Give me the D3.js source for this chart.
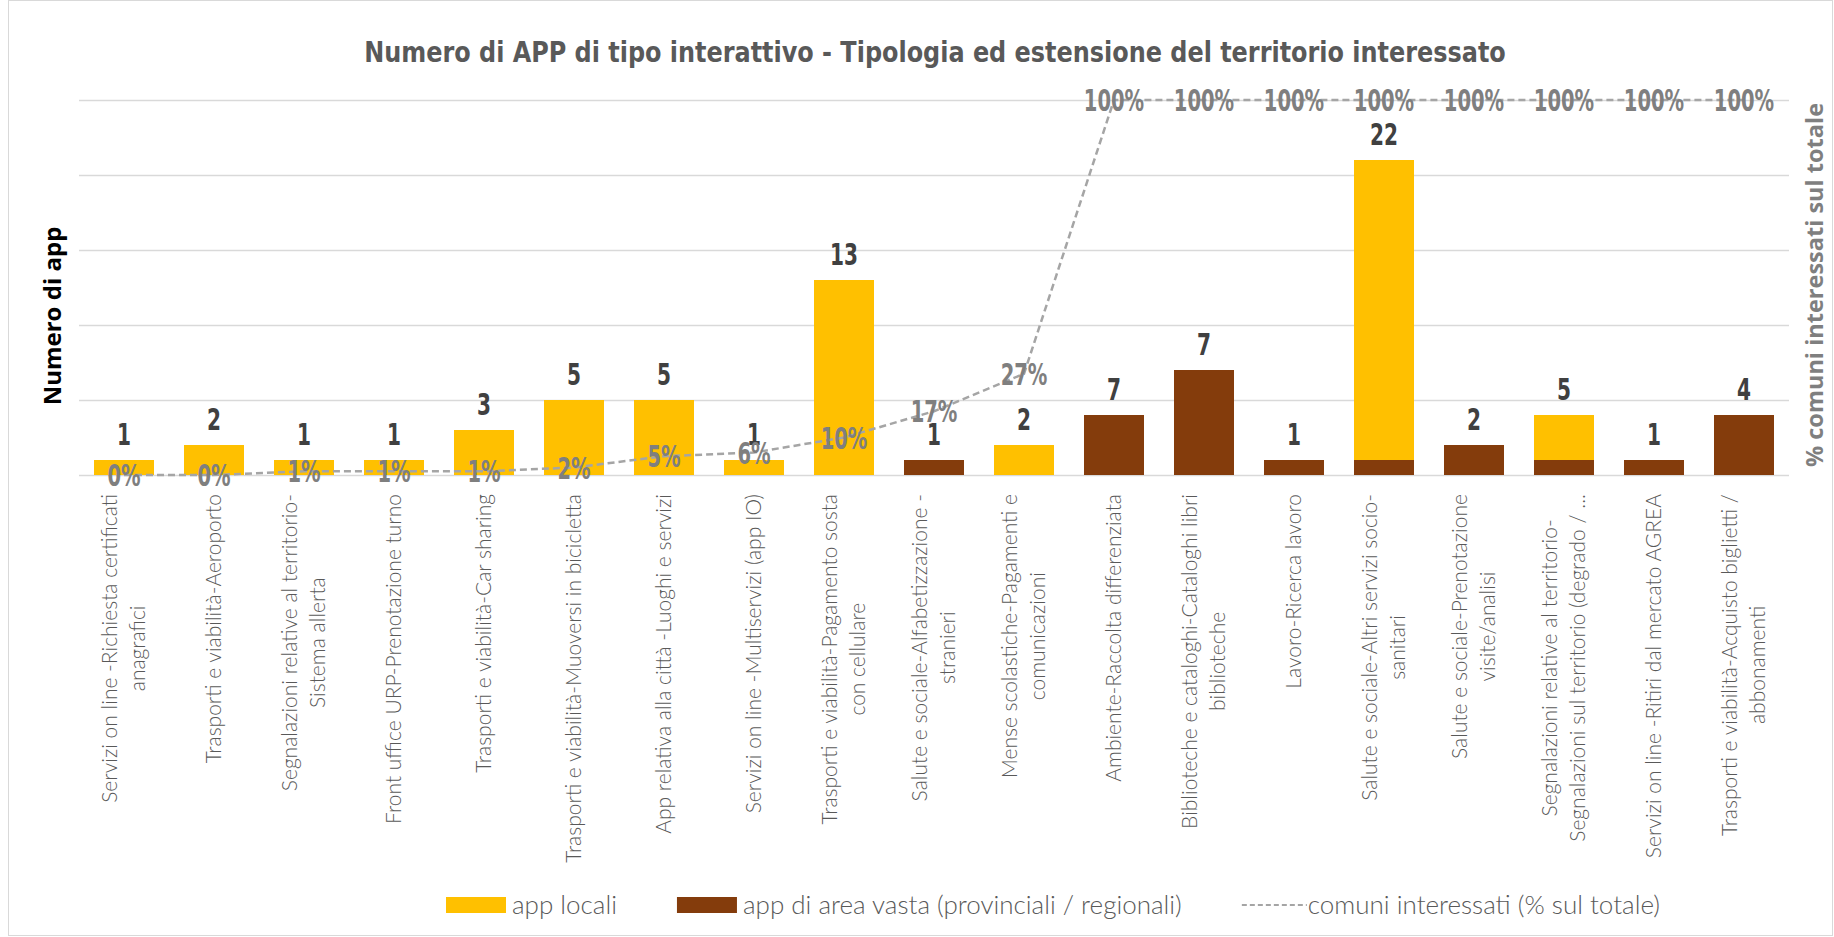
<!DOCTYPE html>
<html>
<head>
<meta charset="utf-8">
<script src="https://cdn.jsdelivr.net/npm/d3@7"></script>
<style>
  body { margin: 0; background: #fff; }
  svg { display: block; }
</style>
</head>
<body>
<div id="chart"></div>
<script>
// categorie (a capo come nell'originale)
const categories = [
  "Servizi on line -Richiesta certificati\nanagrafici",
  "Trasporti e viabilità-Aeroporto",
  "Segnalazioni relative al territorio-\nSistema allerta",
  "Front uffice URP-Prenotazione turno",
  "Trasporti e viabilità-Car sharing",
  "Trasporti e viabilità-Muoversi in bicicletta",
  "App relativa alla città -Luoghi e servizi",
  "Servizi on line -Multiservizi (app IO)",
  "Trasporti e viabilità-Pagamento sosta\ncon cellulare",
  "Salute e sociale-Alfabetizzazione -\nstranieri",
  "Mense scolastiche-Pagamenti e\ncomunicazioni",
  "Ambiente-Raccolta differenziata",
  "Biblioteche e cataloghi-Cataloghi libri\nbiblioteche",
  "Lavoro-Ricerca lavoro",
  "Salute e sociale-Altri servizi socio-\nsanitari",
  "Salute e sociale-Prenotazione\nvisite/analisi",
  "Segnalazioni relative al territorio-\nSegnalazioni sul territorio (degrado / ...",
  "Servizi on line -Ritiri dal mercato AGREA",
  "Trasporti e viabilità-Acquisto biglietti /\nabbonamenti"
];
const appLocali    = [1, 2, 1, 1, 3, 5, 5, 1, 13, 0, 2, 0, 0, 0, 20, 0, 3, 0, 0];
const appAreaVasta = [0, 0, 0, 0, 0, 0, 0, 0, 0, 1, 0, 4, 7, 1, 1, 2, 1, 1, 4];
const totaliLabel  = [1, 2, 1, 1, 3, 5, 5, 1, 13, 1, 2, 7, 7, 1, 22, 2, 5, 1, 4];
const comuniPct    = [0, 0, 1, 1, 1, 2, 5, 6, 10, 17, 27, 100, 100, 100, 100, 100, 100, 100, 100];
const yTicks = [0, 5, 10, 15, 20, 25];

const W = 1834, H = 937;
const margin = {top: 100, right: 45, bottom: 462, left: 79};
const numFont = "'Liberation Sans Narrow', 'DejaVu Sans Condensed', sans-serif";
const thinFont = "Lato, 'Open Sans', sans-serif";

// restringe orizzontalmente un testo (font condensato tipo DIN)
function squeeze(sel, f) {
    sel.each(function () {
        const w = this.getComputedTextLength();
        d3.select(this).attr("textLength", w * f).attr("lengthAdjust", "spacingAndGlyphs");
    });
}

const svg = d3.select("#chart").append("svg")
    .attr("width", W)
    .attr("height", H);

// bordo area grafico
svg.append("rect")
    .attr("x", 8.5).attr("y", 0.5)
    .attr("width", W - 10).attr("height", H - 2)
    .attr("fill", "none")
    .attr("stroke", "#d9d9d9");

const x = d3.scaleBand()
    .domain(d3.range(categories.length))
    .range([margin.left, W - margin.right])
    .paddingInner(1 / 3)
    .paddingOuter(1 / 6);

const y = d3.scaleLinear()
    .domain([0, 25])
    .range([H - margin.bottom, margin.top]);

const y2 = d3.scaleLinear()
    .domain([0, 100])
    .range([H - margin.bottom, margin.top]);

// griglia
const grid = svg.append("g")
    .attr("transform", `translate(${margin.left},0)`)
    .call(d3.axisLeft(y).tickValues(yTicks).tickSize(-(W - margin.left - margin.right)).tickFormat(""));
grid.select(".domain").remove();
grid.selectAll("line").attr("stroke", "#d9d9d9").attr("stroke-width", 1.5);

// barre impilate
const rows = categories.map((c, i) => ({i: i, vasta: appAreaVasta[i], locali: appLocali[i]}));
const stacked = d3.stack().keys(["vasta", "locali"])(rows);
const colors = {vasta: "#843c0c", locali: "#ffc000"};

svg.selectAll(".serie")
    .data(stacked)
    .enter()
    .append("g")
    .attr("class", "serie")
    .attr("fill", d => colors[d.key])
    .selectAll("rect")
    .data(d => d.filter(s => s[1] > s[0]))
    .enter()
    .append("rect")
    .attr("x", d => x(d.data.i))
    .attr("y", d => y(d[1]))
    .attr("width", x.bandwidth())
    .attr("height", d => y(d[0]) - y(d[1]));

// etichette totali
svg.selectAll(".tot")
    .data(rows)
    .enter()
    .append("text")
    .attr("class", "tot")
    .attr("x", d => x(d.i) + x.bandwidth() / 2)
    .attr("y", d => y(d.vasta + d.locali) - 15)
    .attr("text-anchor", "middle")
    .style("font-family", numFont)
    .style("font-weight", "bold")
    .style("font-size", "31px")
    .style("fill", "#404040")
    .text(d => totaliLabel[d.i])
    .call(squeeze, 0.72);

// linea comuni interessati
const line = d3.line()
    .x((d, i) => x(i) + x.bandwidth() / 2)
    .y(d => y2(d));

svg.append("path")
    .datum(comuniPct)
    .attr("d", line)
    .attr("fill", "none")
    .attr("stroke", "#a5a5a5")
    .attr("stroke-width", 2.5)
    .attr("stroke-dasharray", "7,4");

svg.selectAll(".pct")
    .data(comuniPct)
    .enter()
    .append("text")
    .attr("class", "pct")
    .attr("x", (d, i) => x(i) + x.bandwidth() / 2)
    .attr("y", d => y2(d) + 11)
    .attr("text-anchor", "middle")
    .style("font-family", numFont)
    .style("font-weight", "bold")
    .style("font-size", "31px")
    .style("fill", "#7f7f7f")
    .text(d => d + "%")
    .call(squeeze, 0.7);

// etichette categorie (ruotate)
const catG = svg.selectAll(".cat")
    .data(categories)
    .enter()
    .append("g")
    .attr("class", "cat")
    .attr("transform", (d, i) => `translate(${x(i) + x.bandwidth() / 2},494) rotate(-90)`);

catG.each(function (d) {
    const g = d3.select(this);
    const lines = d.split("\n");
    const lh = 28;
    const texts = lines.map((t, k) => g.append("text")
        .attr("y", (k - (lines.length - 1) / 2) * lh)
        .attr("dy", "0.35em")
        .attr("text-anchor", "middle")
        .style("font-family", thinFont)
        .style("font-weight", 300)
        .style("font-size", "21px")
        .style("fill", "#595959")
        .text(t));
    const maxW = d3.max(texts, t => t.node().getComputedTextLength());
    texts.forEach(t => t.attr("x", -maxW / 2));
});

// titolo
svg.append("text")
    .attr("x", 935)
    .attr("y", 62)
    .attr("text-anchor", "middle")
    .style("font-family", numFont)
    .style("font-weight", "bold")
    .style("font-size", "28px")
    .style("fill", "#595959")
    .text("Numero di APP di tipo interattivo - Tipologia ed estensione del territorio interessato")
    .call(squeeze, 0.95);

// titoli assi
svg.append("text")
    .attr("transform", "translate(53,316) rotate(-90)")
    .attr("text-anchor", "middle")
    .attr("dy", "0.35em")
    .style("font-family", "'Open Sans', sans-serif")
    .style("font-weight", "bold")
    .style("font-size", "24px")
    .style("fill", "#000")
    .text("Numero di app");

svg.append("text")
    .attr("transform", "translate(1815,285) rotate(-90)")
    .attr("text-anchor", "middle")
    .attr("dy", "0.35em")
    .style("font-family", "'Open Sans', sans-serif")
    .style("font-weight", "bold")
    .style("font-size", "23.5px")
    .style("fill", "#7f7f7f")
    .text("% comuni interessati sul totale");

// legenda
const legendItems = [
    {label: "app locali", type: "rect", color: colors.locali},
    {label: "app di area vasta (provinciali / regionali)", type: "rect", color: colors.vasta},
    {label: "comuni interessati (% sul totale)", type: "line", color: "#a5a5a5"}
];
const legend = svg.append("g").attr("transform", "translate(446,905)");
let lx = 0;
legendItems.forEach(it => {
    if (it.type === "rect") {
        legend.append("rect")
            .attr("x", lx).attr("y", -8)
            .attr("width", 60).attr("height", 16)
            .attr("fill", it.color);
    } else {
        legend.append("line")
            .attr("x1", lx).attr("x2", lx + 65)
            .attr("y1", 0).attr("y2", 0)
            .attr("stroke", it.color)
            .attr("stroke-width", 2)
            .attr("stroke-dasharray", "5,3");
    }
    const t = legend.append("text")
        .attr("x", lx + 66)
        .attr("dy", "0.35em")
        .style("font-family", thinFont)
        .style("font-weight", 300)
        .style("font-size", "26px")
        .style("fill", "#595959")
        .text(it.label);
    lx += 66 + t.node().getComputedTextLength() + 60;
});
</script>
</body>
</html>
